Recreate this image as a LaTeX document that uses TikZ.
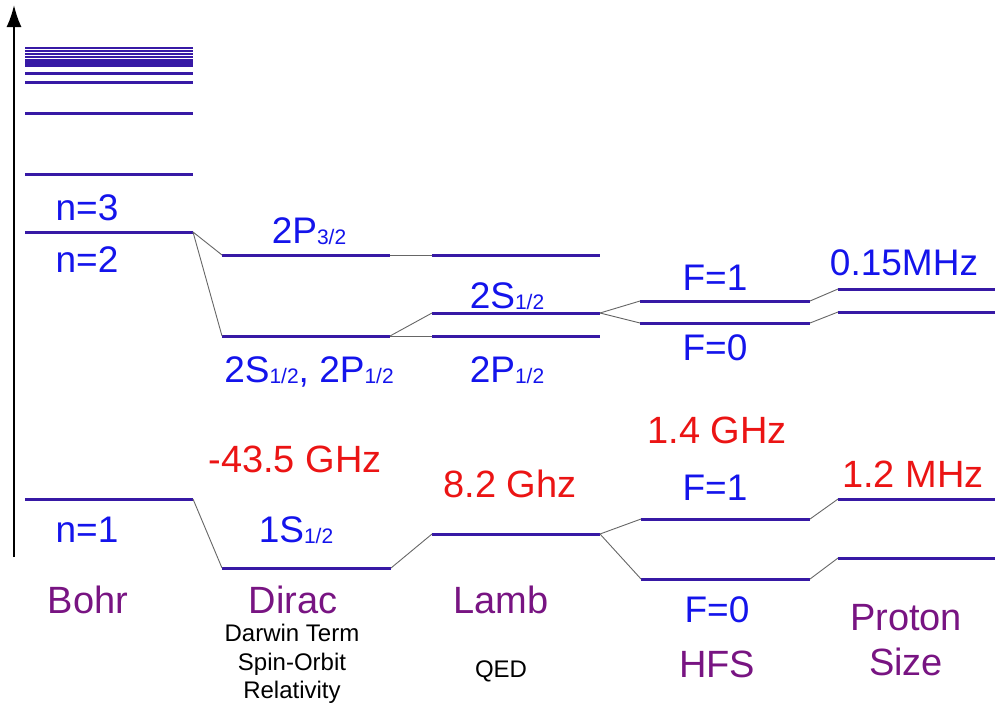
\documentclass[tikz,border=0pt]{standalone}
\usepackage{fontspec}
\setmainfont{Liberation Sans}
\usetikzlibrary{arrows.meta}
\definecolor{lvl}{RGB}{55,25,165}
\definecolor{lblue}{RGB}{20,20,235}
\definecolor{lred}{RGB}{235,20,20}
\definecolor{lpurp}{RGB}{120,20,130}
\newcommand\sbs[1]{{\fontsize{21}{21}\selectfont\raisebox{-1.5pt}{#1}}}
\begin{document}
\begin{tikzpicture}[x=1pt,y=-1pt,
  level/.style={line width=3pt,draw=lvl},
  dense/.style={line width=2.2pt,draw=lvl},
  conn/.style={line width=0.9pt,draw=black!60},
  bl/.style={anchor=base,inner sep=0pt,text=lblue,font=\fontsize{37}{37}\selectfont},
  rd/.style={anchor=base,inner sep=0pt,text=lred,font=\fontsize{38}{38}\selectfont},
  pu/.style={anchor=base,inner sep=0pt,text=lpurp,font=\fontsize{38}{38}\selectfont},
  sm/.style={anchor=base,inner sep=0pt,text=black,font=\fontsize{24}{24}\selectfont}]
\useasboundingbox (0,0) rectangle (995,705);
% axis
\coordinate (ax0) at (14,557);
\coordinate (ax1) at (14,5);
\draw[line width=2pt,-{Latex[length=22pt,width=15pt]}] (ax0) -- (ax1);
% Bohr levels
\foreach \yy in {48,50.9,53.8,56.7,59.6,62.5,65.5}
  \draw[dense] (25,\yy) -- (193,\yy);
\foreach \yy in {73,82,113,174}
  \draw[level] (25,\yy) -- (193,\yy);
\coordinate (b2l) at (25,232);  \coordinate (b2r) at (193,232);
\coordinate (b1l) at (25,499);  \coordinate (b1r) at (193,499);
\draw[level] (b2l) -- (b2r);
\draw[level] (b1l) -- (b1r);
% Dirac
\coordinate (d3l) at (222,255); \coordinate (d3r) at (390,255);
\coordinate (d2l) at (222,336); \coordinate (d2r) at (390,336);
\coordinate (d1l) at (222,568); \coordinate (d1r) at (391,568);
\draw[level] (d3l) -- (d3r);
\draw[level] (d2l) -- (d2r);
\draw[level] (d1l) -- (d1r);
% Lamb
\coordinate (l3l) at (432,255); \coordinate (l3r) at (600,255);
\coordinate (lsl) at (432,313); \coordinate (lsr) at (600,313);
\coordinate (lpl) at (432,336); \coordinate (lpr) at (600,336);
\coordinate (l1l) at (432,534); \coordinate (l1r) at (600,534);
\draw[level] (l3l) -- (l3r);
\draw[level] (lsl) -- (lsr);
\draw[level] (lpl) -- (lpr);
\draw[level] (l1l) -- (l1r);
% HFS
\coordinate (h21l) at (640,301); \coordinate (h21r) at (810,301);
\coordinate (h20l) at (640,323); \coordinate (h20r) at (810,323);
\coordinate (h11l) at (641,519); \coordinate (h11r) at (810,519);
\coordinate (h10l) at (641,579); \coordinate (h10r) at (810,579);
\draw[level] (h21l) -- (h21r);
\draw[level] (h20l) -- (h20r);
\draw[level] (h11l) -- (h11r);
\draw[level] (h10l) -- (h10r);
% Proton size
\coordinate (p21l) at (838,289); \coordinate (p21r) at (995,289);
\coordinate (p20l) at (838,312); \coordinate (p20r) at (995,312);
\coordinate (p11l) at (838,499); \coordinate (p11r) at (995,499);
\coordinate (p10l) at (838,558); \coordinate (p10r) at (995,558);
\draw[level] (p21l) -- (p21r);
\draw[level] (p20l) -- (p20r);
\draw[level] (p11l) -- (p11r);
\draw[level] (p10l) -- (p10r);
% connectors
\draw[conn] (b2r) -- (d3l);
\draw[conn] (b2r) -- (d2l);
\draw[conn] (b1r) -- (d1l);
\draw[conn] (d3r) -- (l3l);
\draw[conn] (d2r) -- (lsl);
\draw[conn] (d2r) -- (lpl);
\draw[conn] (d1r) -- (l1l);
\draw[conn] (lsr) -- (h21l);
\draw[conn] (lsr) -- (h20l);
\draw[conn] (l1r) -- (h11l);
\draw[conn] (l1r) -- (h10l);
\draw[conn] (h21r) -- (p21l);
\draw[conn] (h20r) -- (p20l);
\draw[conn] (h11r) -- (p11l);
\draw[conn] (h10r) -- (p10l);
% blue labels
\node[bl] (tn3) at (87,220) {n=3};
\node[bl] (tn2) at (87,272) {n=2};
\node[bl] (tn1) at (87,542) {n=1};
\node[bl] (t2p3) at (309,243) {2P\sbs{3/2}};
\node[bl] (t2s2p) at (309,382) {2S\sbs{1/2}, 2P\sbs{1/2}};
\node[bl] (t2s) at (507,308) {2S\sbs{1/2}};
\node[bl] (t2p) at (507,382) {2P\sbs{1/2}};
\node[bl] (t1s) at (296,542) {1S\sbs{1/2}};
\node[bl] (tf1a) at (715,290) {F=1};
\node[bl] (tf0a) at (715,360) {F=0};
\node[bl] (tf1b) at (715,500) {F=1};
\node[bl] (tf0b) at (717,622) {F=0};
\node[bl] (t015) at (904,275) {0.15MHz};
% red labels
\node[rd] (t435) at (295,472) {-43.5 GHz};
\node[rd] (t82) at (510,497) {8.2 Ghz};
\node[rd] (t14) at (717,443) {1.4 GHz};
\node[rd] (t12) at (913,487) {1.2 MHz};
% purple labels
\node[pu] (tbohr) at (88,613) {Bohr};
\node[pu] (tdirac) at (293,613) {Dirac};
\node[pu] (tlamb) at (501,613) {Lamb};
\node[pu] (thfs) at (717,677) {HFS};
\node[pu] (tproton) at (906,630) {Proton};
\node[pu] (tsize) at (906,675) {Size};
% small black labels
\node[sm] (tdar) at (292,641) {Darwin Term};
\node[sm] (tso) at (292,670) {Spin-Orbit};
\node[sm] (trel) at (292,698) {Relativity};
\node[sm] (tqed) at (501,677) {QED};
\end{tikzpicture}
\end{document}
